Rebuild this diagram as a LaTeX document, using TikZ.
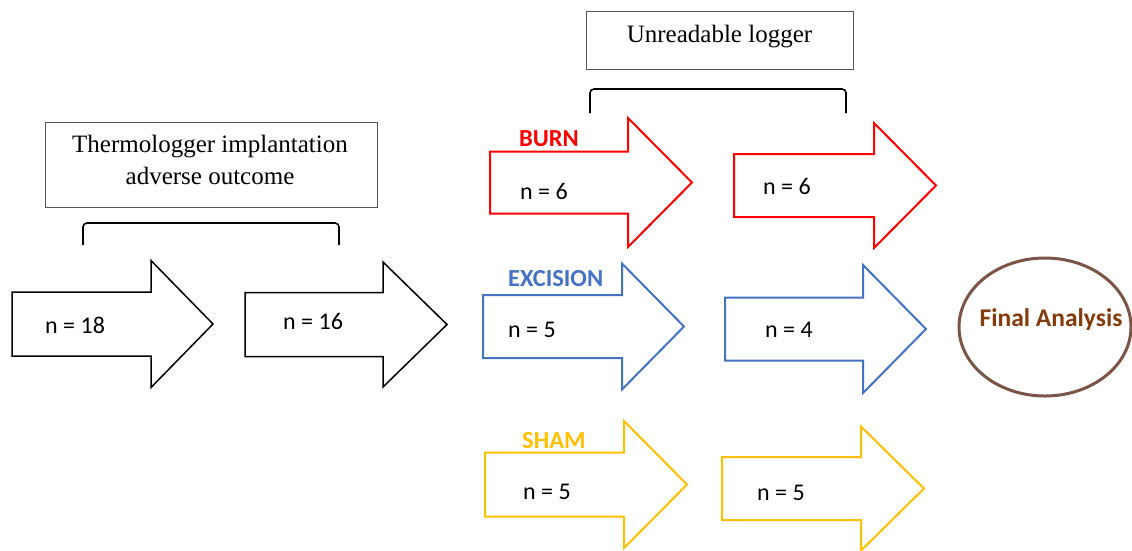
\documentclass[tikz,border=0pt]{standalone}
\usepackage{fontspec}
\setmainfont{Liberation Serif}
\newfontfamily\carl{Carlito}
\usetikzlibrary{shapes.geometric}
\definecolor{cred}{HTML}{FF0000}
\definecolor{cblue}{HTML}{4472C4}
\definecolor{cyel}{HTML}{FFC000}
\definecolor{cbrown}{HTML}{843C0C}
\definecolor{cring}{HTML}{7B5446}
\definecolor{cbox}{HTML}{555555}
\newcommand\fatarrow[8]{% style, name, xl, xb, xt, cy, hb, hh
  \draw[#1] (#3,#6-#7) -- (#4,#6-#7) -- (#4,#6-#8) -- (#5,#6) -- (#4,#6+#8) -- (#4,#6+#7) -- (#3,#6+#7) -- cycle;
  \coordinate (#2) at (#3,#6);}
\begin{document}
\begin{tikzpicture}[x=1pt,y=-1pt,
  blackarrow/.style={draw=black,line width=1.5pt},
  redarrow/.style={draw=cred,line width=2pt},
  bluearrow/.style={draw=cblue,line width=2pt},
  yelarrow/.style={draw=cyel,line width=2pt},
  nlabel/.style={anchor=west,inner sep=0pt,font=\carl\fontsize{24}{28}\selectfont},
  grouplabel/.style={anchor=west,inner sep=0pt,font=\carl\bfseries\fontsize{24.5}{28}\selectfont},
  infobox/.style={draw=cbox,line width=1pt,inner sep=0pt},
  boxtext/.style={align=center,inner sep=0pt,font=\fontsize{25}{32}\selectfont},
  bracket/.style={draw=black,line width=1.6pt,rounded corners=4pt}]
\useasboundingbox (0,0) rectangle (1132,550);
\fill[white] (0,0) rectangle (1132,550);
% info boxes
\node[infobox,minimum width=332pt,minimum height=85pt] (thermo) at (211,164.5) {};
\node[boxtext] (thermotxt) at (210,160) {Thermologger implantation\\adverse outcome};
\node[infobox,minimum width=267pt,minimum height=58pt] (unread) at (719.5,40) {};
\node[boxtext] (unreadtxt) at (719.5,37) {Unreadable logger};
% brackets
\coordinate (b1l) at (83,245); \coordinate (b1r) at (339,245);
\draw[bracket] (b1l) -- (83,223) -- (339,223) -- (b1r);
\coordinate (b2l) at (590,113); \coordinate (b2r) at (846,113);
\draw[bracket] (b2l) -- (590,89) -- (846,89) -- (b2r);
% black arrows
\fatarrow{blackarrow}{a1}{12}{151}{213}{324}{32}{63.5}
\fatarrow{blackarrow}{a2}{245}{383}{447}{324.5}{32}{62.5}
\node[nlabel] (n18) at (45,325) {n = 18};
\node[nlabel] (n16) at (283,321) {n = 16};
% burn
\fatarrow{redarrow}{r1}{490}{628}{692}{182.5}{31}{64.5}
\fatarrow{redarrow}{r2}{734}{874}{936}{185.5}{31.5}{62.5}
\node[grouplabel,text=cred] (burn) at (519,139) {BURN};
\node[nlabel] (nr1) at (520,191) {n = 6};
\node[nlabel] (nr2) at (763,186) {n = 6};
% excision
\fatarrow{bluearrow}{e1}{483}{622}{684}{326.5}{31.5}{63}
\fatarrow{bluearrow}{e2}{725}{863}{926}{329}{31.5}{64}
\node[grouplabel,text=cblue] (exc) at (508,279) {EXCISION};
\node[nlabel] (ne1) at (508,330) {n = 5};
\node[nlabel] (ne2) at (765,330) {n = 4};
% sham
\fatarrow{yelarrow}{s1}{485}{624}{687}{484.5}{32}{63.5}
\fatarrow{yelarrow}{s2}{722}{861}{924}{488.5}{31.5}{62}
\node[grouplabel,text=cyel] (sham) at (522,441) {SHAM};
\node[nlabel] (ns1) at (523,492) {n = 5};
\node[nlabel] (ns2) at (757,493) {n = 5};
% final analysis
\node[draw=cring,line width=3pt,ellipse,minimum width=172pt,minimum height=138pt,inner sep=0pt] (final) at (1045,327) {};
\node[inner sep=0pt,text=cbrown,font=\carl\bfseries\fontsize{25.5}{28}\selectfont] (finaltxt) at (1051,320) {Final Analysis};
\end{tikzpicture}
\end{document}
